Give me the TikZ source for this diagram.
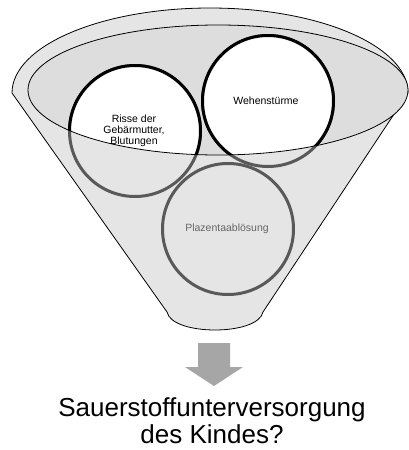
\documentclass[tikz,border=0pt]{standalone}
\usepackage{fontspec}
\setmainfont{Liberation Sans}
\tikzset{ring/.style={draw=#1, circle, line width=3pt, minimum size=131pt, inner sep=0pt},
	caption/.style={align=center, inner sep=0pt, font=\fontsize{10.5}{10.8}\selectfont}}

\begin{document}
\begin{tikzpicture}[x=1pt, y=-1pt]
	\useasboundingbox (0, 0) rectangle (409, 450);

	\filldraw[fill=gray!20, draw=black, line width=.8pt]
	(12, 93) arc[start angle=180, end angle=0, x radius=198pt, y radius=85pt]
	-- (263, 312) .. controls (258, 336) and (172, 336) .. (167, 312) -- cycle;
	\fill[gray!27] (218, 90) ellipse[x radius=190pt, y radius=65pt];

	\node[ring=black!65] (risse) at (135, 131) {};
	\node[ring=black!65] (wehen) at (268, 101) {};
	\node[ring=black!65] (plazenta) at (228, 229) {};

	\begin{scope}
		\clip (218, 90) ellipse[x radius=190pt, y radius=65pt];
		\node[ring=black, fill=white] at (risse) {};
		\node[ring=black, fill=white] at (wehen) {};
	\end{scope}
	\draw[line width=.8pt] (218, 90) ellipse[x radius=190pt, y radius=65pt];

	\node[caption] (risseText) at (134, 131) {Risse der\\Gebärmutter,\\Blutungen};
	\node[caption] (wehenText) at (266, 101) {Wehenstürme};
	\node[caption, text=black!60] (plazentaText) at (227, 229) {Plazentaablösung};

	\fill[gray!70] (198, 343) -- (230, 343) -- (230, 367) -- (243, 367)
	-- (214, 386) -- (185, 367) -- (198, 367) -- cycle;

	\node[align=center, inner sep=0pt, font=\fontsize{26}{27}\selectfont] (folge) at (212, 421)
	{Sauerstoffunterversorgung\\des Kindes?};

\end{tikzpicture}
\end{document}
